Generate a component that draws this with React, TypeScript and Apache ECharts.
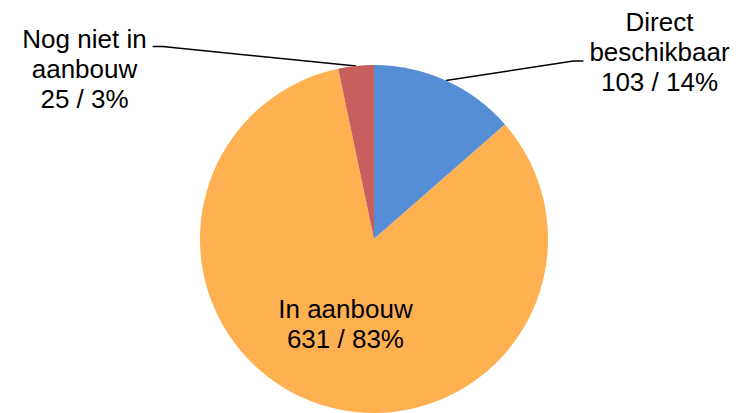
import React, { useEffect, useRef } from "react";
import * as echarts from "echarts";

const categories = ["Direct beschikbaar", "In aanbouw", "Nog niet in aanbouw"];
const labelNames = ["Direct\nbeschikbaar", "In aanbouw", "Nog niet in\naanbouw"];
const values = [103, 631, 25];
const colors = ["#558ED5", "#FFB152", "#C65F5D"];

export default function App() {
  const ref = useRef<HTMLDivElement>(null);

  useEffect(() => {
    if (!ref.current) return;
    const chart = echarts.init(ref.current, null, { renderer: "svg" });
    const CX = 374;
    const CY = 239;
    const R = 174;
    const total = values.reduce((a, b) => a + b, 0);
    const midAngle = (i: number) => {
      let before = 0;
      for (let j = 0; j < i; j++) before += values[j];
      return ((before + values[i] / 2) / total) * Math.PI * 2;
    };
    // label block centres and leader attachment for the outside labels
    const anchors: Record<number, { x: number; y: number; side: number; lineDy: number }> = {
      0: { x: 659.5, y: 52, side: 1, lineDy: 9 },
      2: { x: 84.5, y: 68.5, side: -1, lineDy: -22 },
    };

    chart.setOption({
      animation: false,
      series: [
        {
          type: "pie",
          center: [CX, CY],
          radius: R,
          startAngle: 90,
          clockwise: true,
          avoidLabelOverlap: false,
          emphasis: { disabled: true },
          itemStyle: { borderWidth: 0 },
          label: {
            show: true,
            position: "outside",
            formatter: (p: any) =>
              `${labelNames[p.dataIndex]}\n${p.value} / ${Math.round(p.percent)}%`,
            fontFamily: "'Liberation Sans', Arial, sans-serif",
            fontSize: 26,
            lineHeight: 30,
            color: "#000",
            overflow: "none",
          },
          labelLine: {
            show: true,
            length: 15,
            length2: 10,
            lineStyle: { color: "#000", width: 1.5 },
          },
          labelLayout: (params: any) => {
            const a = anchors[params.dataIndex];
            if (!a) return {};
            const w = params.labelRect.width;
            const th = midAngle(params.dataIndex);
            const p1 = [CX + R * Math.sin(th), CY - R * Math.cos(th)];
            const edgeX = a.side > 0 ? a.x - w / 2 - 6 : a.x + w / 2 + 6;
            const p3 = [edgeX, a.y + a.lineDy];
            const p2 = [edgeX - a.side * 10, a.y + a.lineDy];
            return {
              x: a.x,
              y: a.y,
              align: "center",
              verticalAlign: "middle",
              labelLinePoints: [p1, p2, p3],
            };
          },
          data: values.map((v, i) => ({
            value: v,
            name: categories[i],
            itemStyle: { color: colors[i] },
            ...(i === 1
              ? { label: { position: "inside" }, labelLine: { show: false } }
              : {}),
          })),
        },
      ],
    });
    return () => chart.dispose();
  }, []);

  return (
    <div
      ref={ref}
      style={{ position: "absolute", left: 0, top: 0, width: 746, height: 413, background: "#fff" }}
    />
  );
}
